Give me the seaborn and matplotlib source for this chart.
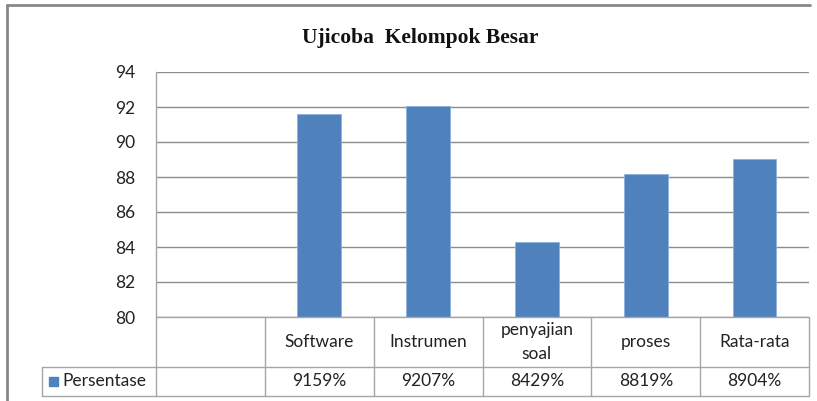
import numpy as np
import pandas as pd
import matplotlib
matplotlib.use("Agg")
import matplotlib.pyplot as plt
import matplotlib.transforms as mtransforms
from matplotlib.patches import Rectangle
from matplotlib.lines import Line2D
import seaborn as sns

### ---------------- DATA ---------------- ###
categories = ["", "Software", "Instrumen", "penyajian\nsoal", "proses", "Rata-rata"]
named = categories[1:]
values = [91.59, 92.07, 84.29, 88.19, 89.04]
table_labels = ["9159%", "9207%", "8429%", "8819%", "8904%"]
series_name = "Persentase"
title = "Ujicoba  Kelompok Besar"
y_ticks = [80, 82, 84, 86, 88, 90, 92, 94]

BLUE = "#4F81BD"
GRID = "#8C8C8C"
TABLE = "#A6A6A6"
TXT = "#222222"

sns.set_theme(style="white")
plt.rcParams["font.family"] = ["Lato", "DejaVu Sans"]

fig = plt.figure(figsize=(8.17, 4.01), dpi=100)
ax = fig.add_axes([156 / 817, 1 - 317 / 401, (809 - 156) / 817, (317 - 72) / 401])

df = pd.DataFrame({"cat": named, "val": values})
sns.barplot(data=df, x="cat", y="val", order=categories, color=BLUE,
            width=0.4, saturation=1, edgecolor="#8DB0DC", linewidth=0.6, ax=ax)

ax.set_xlim(-0.5, len(categories) - 0.5)
ax.set_ylim(y_ticks[0], y_ticks[-1])
ax.set_yticks(y_ticks)
ax.tick_params(axis="y", length=0, pad=15, labelsize=12.5, labelcolor=TXT)
ax.set_xticks([])
ax.set_xlabel("")
ax.set_ylabel("")
ax.yaxis.grid(True, color=GRID, linewidth=1)
ax.set_axisbelow(True)
for side in ["top", "right", "bottom"]:
    ax.spines[side].set_visible(False)
ax.spines["left"].set_color(TABLE)
ax.spines["left"].set_linewidth(1)

# data table below the plot (Excel style)
h_ax = 317 - 72
row1 = -(367 - 317) / h_ax
row2 = -(396 - 317) / h_ax
leg_left = -0.5 + (42 - 156) / 109.0
blend = mtransforms.blended_transform_factory(ax.transData, ax.transAxes)
kw = dict(transform=blend, color=TABLE, linewidth=1, clip_on=False)
x_right = len(categories) - 0.5
ax.plot([-0.5, x_right], [0, 0], **kw)
ax.plot([leg_left, x_right], [row1, row1], **kw)
ax.plot([leg_left, x_right], [row2, row2], **kw)
ax.plot([leg_left, leg_left], [row1, row2], **kw)
for i in range(len(categories) + 1):
    ax.plot([i - 0.5, i - 0.5], [0, row2], **kw)

for i, cat in enumerate(categories):
    ax.text(i, row1 / 2, cat, transform=blend, ha="center", va="center",
            fontsize=12.5, color=TXT, linespacing=1.55)
for i, lab in enumerate(table_labels, start=1):
    ax.text(i, (row1 + row2) / 2, lab, transform=blend, ha="center", va="center",
            fontsize=12.5, color=TXT)

# legend key in the table
ax.add_patch(Rectangle((leg_left + 0.06, (row1 + row2) / 2 - 0.018), 0.085, 0.037,
                       transform=blend, color=BLUE, clip_on=False))
ax.text(leg_left + 0.19, (row1 + row2) / 2, series_name, transform=blend,
        ha="left", va="center", fontsize=12.5, color=TXT)

fig.text(420 / 817, 1 - 38 / 401, title, ha="center", va="center",
         fontsize=15.5, fontweight="bold", family="Liberation Serif", color="#111111")

# outer chart border (only top and left visible)
top_y = 1 - 5 / 401
left_x = 7 / 817
fig.lines.append(Line2D([left_x, 810 / 817], [top_y, top_y], transform=fig.transFigure,
                        color="#888888", linewidth=2))
fig.lines.append(Line2D([left_x, left_x], [0, top_y], transform=fig.transFigure,
                        color="#888888", linewidth=2))

fig.savefig("out.png", dpi=100, facecolor="white")
